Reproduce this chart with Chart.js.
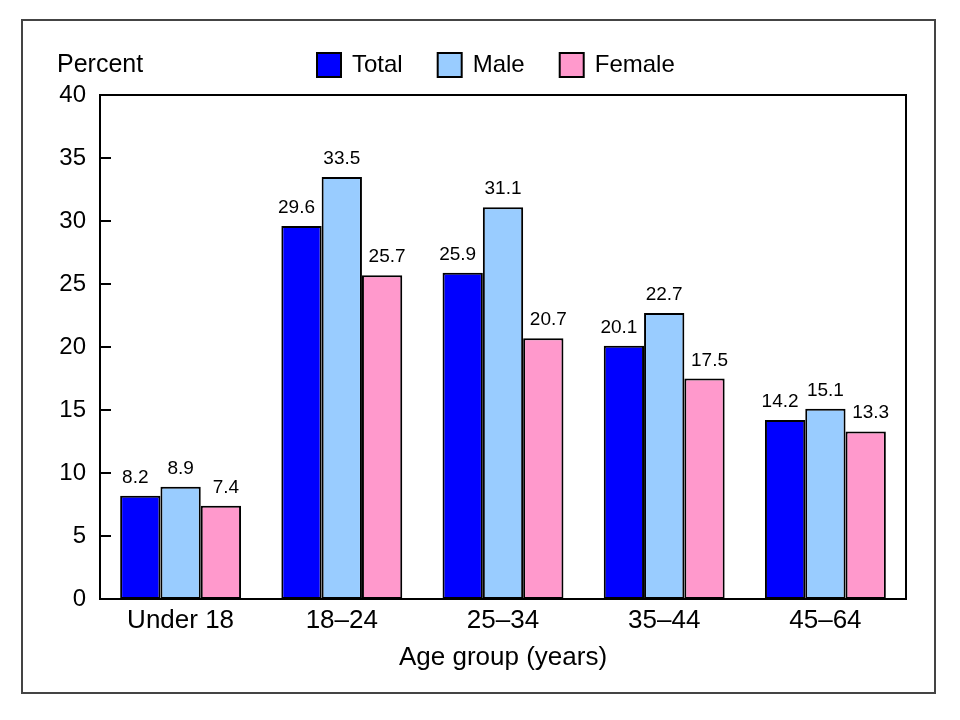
<!DOCTYPE html>
<html>
<head>
<meta charset="utf-8">
<script src="https://cdn.jsdelivr.net/npm/chart.js@4"></script>
<style>
  html, body { margin: 0; padding: 0; background: #fff; }
  #wrap { width: 960px; height: 720px; position: relative; }
</style>
</head>
<body>
<div id="wrap"><canvas id="chart"></canvas></div>
<script>
// ==================== DATOS ====================
const grupos = ['Under 18', '18–24', '25–34', '35–44', '45–64'];
const serieNombres = ['Total', 'Male', 'Female'];
const valoresTotal = [8.2, 29.6, 25.9, 20.1, 14.2];
const valoresMale = [8.9, 33.5, 31.1, 22.7, 15.1];
const valoresFemale = [7.4, 25.7, 20.7, 17.5, 13.3];
const yTicks = [0, 5, 10, 15, 20, 25, 30, 35, 40];

const colores = ['#0000ff', '#99ccff', '#ff99cc'];
const FUENTE = '"Liberation Sans", Arial, Helvetica, sans-serif';

// ==================== PLUGIN DE DECORADO ====================
const decorado = {
  id: 'decorado',
  beforeDraw(chart) {
    const ctx = chart.ctx;
    ctx.save();
    // marco exterior
    ctx.strokeStyle = '#444';
    ctx.lineWidth = 2;
    ctx.strokeRect(22, 20, 913, 673);

    // titulo del eje y
    ctx.fillStyle = '#000';
    ctx.font = '25px ' + FUENTE;
    ctx.textBaseline = 'middle';
    ctx.textAlign = 'left';
    ctx.fillText('Percent', 57, 65);

    // leyenda
    ctx.font = '24px ' + FUENTE;
    let x = 317;
    chart.data.datasets.forEach(ds => {
      ctx.fillStyle = ds.backgroundColor;
      ctx.fillRect(x, 53, 24, 24);
      ctx.strokeStyle = '#000';
      ctx.lineWidth = 2;
      ctx.strokeRect(x, 53, 24, 24);
      ctx.fillStyle = '#000';
      ctx.fillText(ds.label, x + 35, 65);
      x += 35 + ctx.measureText(ds.label).width + 35;
    });
    ctx.restore();
  },
  afterDatasetsDraw(chart) {
    const ctx = chart.ctx;
    const area = chart.chartArea;
    const y = chart.scales.y;
    ctx.save();
    // recuadro del area de trazado
    ctx.strokeStyle = '#000';
    ctx.lineWidth = 2;
    ctx.strokeRect(area.left, area.top, area.right - area.left, area.bottom - area.top);

    // marcas internas del eje y
    ctx.beginPath();
    yTicks.forEach(v => {
      const py = Math.round(y.getPixelForValue(v));
      ctx.moveTo(area.left, py);
      ctx.lineTo(area.left + 11, py);
    });
    ctx.stroke();

    // etiquetas de valor
    ctx.fillStyle = '#000';
    ctx.font = '19px ' + FUENTE;
    ctx.textAlign = 'center';
    ctx.textBaseline = 'alphabetic';
    const desplaz = [-5, 0, 5];
    chart.data.datasets.forEach((ds, i) => {
      chart.getDatasetMeta(i).data.forEach((bar, j) => {
        ctx.fillText(ds.data[j].toFixed(1), bar.x + desplaz[i], bar.y - 13);
      });
    });
    ctx.restore();
  }
};

// ==================== GRAFICO ====================
const datos = [valoresTotal, valoresMale, valoresFemale];

new Chart(document.getElementById('chart'), {
  type: 'bar',
  data: {
    labels: grupos,
    datasets: serieNombres.map((nombre, i) => ({
      label: nombre,
      data: datos[i],
      backgroundColor: colores[i],
      borderColor: '#000',
      borderWidth: 2,
      borderSkipped: false,
      categoryPercentage: 0.75,
      barPercentage: 1.0
    }))
  },
  options: {
    responsive: true,
    maintainAspectRatio: false,
    animation: false,
    devicePixelRatio: 1,
    layout: { padding: { left: 22, right: 54, top: 95, bottom: 21 } },
    plugins: {
      legend: { display: false },
      tooltip: { enabled: false }
    },
    scales: {
      x: {
        grid: { display: false, drawTicks: false },
        border: { display: true, color: '#000', width: 2 },
        ticks: { color: '#000', font: { family: FUENTE, size: 26 }, padding: 6 },
        title: {
          display: true,
          text: 'Age group (years)',
          color: '#000',
          font: { family: FUENTE, size: 26 },
          padding: { top: 4, bottom: 26 }
        },
        afterFit(scale) { scale.height = 100; }
      },
      y: {
        min: 0,
        max: 40,
        grid: { display: false, drawTicks: false },
        border: { display: true, color: '#000', width: 2 },
        ticks: {
          stepSize: 5,
          color: '#000',
          font: { family: FUENTE, size: 24 },
          padding: 14
        },
        afterFit(scale) { scale.width = 78; }
      }
    }
  },
  plugins: [decorado]
});
</script>
</body>
</html>
